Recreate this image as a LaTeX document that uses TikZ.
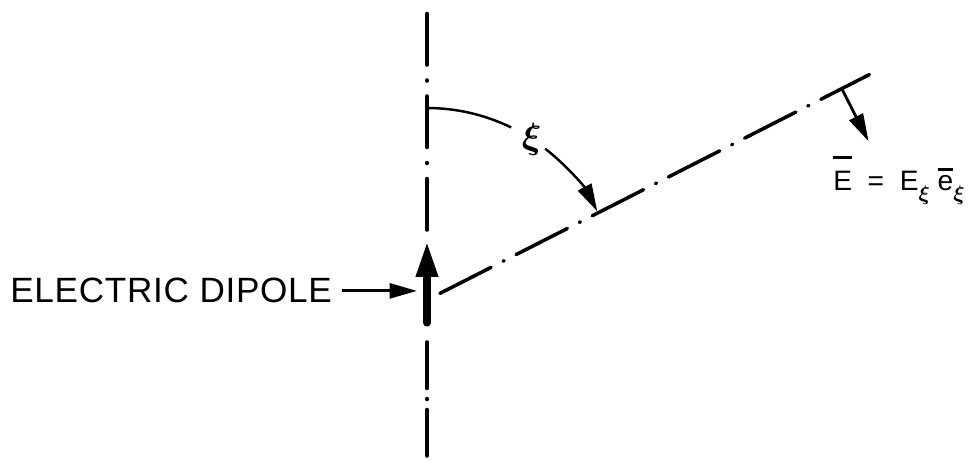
\documentclass[tikz,border=0pt]{standalone}
\usepackage{amsmath}
\usepackage{fontspec}
\setmainfont{Liberation Sans}
\usetikzlibrary{positioning,arrows.meta,calc}
\newcommand{\barred}[2]{\leavevmode\setbox0\hbox{#1}\rlap{\raisebox{#2}{\rule{\wd0}{1.5pt}}}\box0}
\newcommand{\subxi}{\raisebox{-0.2cm}{\fontsize{11.5}{12}\selectfont$\boldsymbol{\xi}$}}

\begin{document}
\begin{tikzpicture}[
  every node/.style={inner sep=0pt},
  axisline/.style={line width=2pt, line cap=round, dash pattern=on 1.03cm off 0.3cm on 0.02cm off 0.3cm},
  rayline/.style={line width=2pt, line cap=round, dash pattern=on 1.15cm off 0.27cm on 0.02cm off 0.27cm},
  pointer/.style={line width=1.6pt, -{Triangle[length=5.5mm,width=3mm]}}
]
\useasboundingbox (0,0) rectangle (19.5,9.26);

\coordinate (O) at (8.54,3.26);
\coordinate (axtop) at (8.54,9.1);
\coordinate (axup) at (8.54,4.66);
\coordinate (axdown) at (8.54,2.42);
\coordinate (axbot) at (8.54,0.05);
\coordinate (dtail) at (8.54,2.8);
\coordinate (dtip) at (8.54,4.42);
\coordinate (dleft) at (8.34,3.45);
\coordinate (raystart) at ($(O)+(27:0.29)$);
\coordinate (rayend) at ($(O)+(27:9.93)$);
\coordinate (foot) at ($(O)+(27:9.31)$);
\coordinate (etip) at ($(foot)+(-63:1.18)$);

\node[anchor=base west, inner xsep=0.2cm, font=\fontsize{20}{24}\selectfont\addfontfeature{LetterSpace=2}] (dipolelabel) at (0,3.2) {ELECTRIC DIPOLE};
\node[font=\fontsize{22}{26}\selectfont] (xi) at ($(O)+(57:3.84)$) {$\boldsymbol{\xi}$};
\node[anchor=base west, font=\fontsize{16}{19}\selectfont] (field) at (16.66,5.44) {\barred{E}{0.64cm}\ \ =\ \ E\subxi\ \barred{e}{0.4cm}\subxi};

\draw[axisline] (axup) -- (axtop);
\draw[axisline, dash pattern=on 0.93cm off 0.2cm on 0.02cm off 0.2cm] (axdown) -- (axbot);
\draw[rayline] (raystart) -- (rayend);
\draw[line width=4pt, line cap=round, -{Triangle[length=7mm,width=4.2mm]}] (dtail) -- (dtip);

\draw[pointer] (dipolelabel.east) -- (dipolelabel.east -| dleft);

\draw[line width=1.4pt] ($(O)+(90:3.84)$) arc[start angle=90, end angle=64, radius=3.84];
\draw[line width=1.4pt, -{Triangle[length=5.5mm,width=3mm]}] ($(O)+(52:3.84)$) arc[start angle=52, end angle=27.5, radius=3.84];

\draw[pointer] (foot) -- (etip);
\end{tikzpicture}
\end{document}
